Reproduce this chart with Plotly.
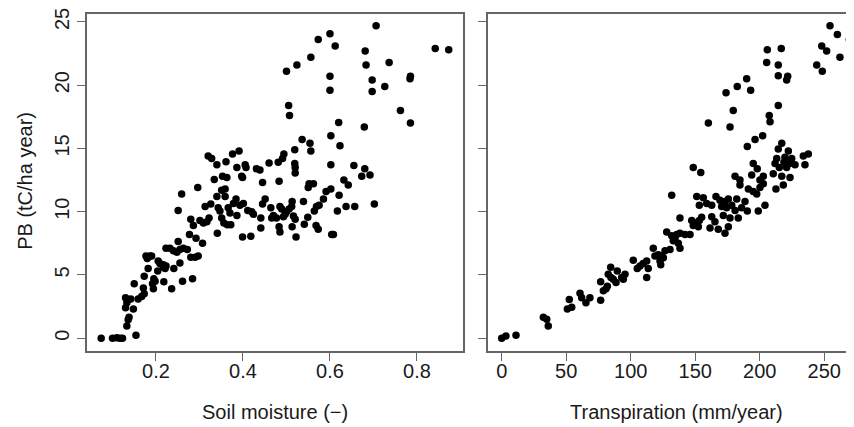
import plotly.graph_objects as go

soil_moisture = [0.706,0.600,0.573,0.612,0.556,0.524,0.500,0.681,0.683,0.736,0.842,0.873,0.600,0.600,0.697,0.697,0.726,0.785,0.784,0.505,0.507,0.762,0.785,0.620,0.679,0.602,0.623,0.536,0.554,0.556,0.519,0.494,0.491,0.481,0.460,0.519,0.520,0.602,0.655,0.680,0.439,
    0.320,0.328,0.340,0.361,0.376,0.391,0.386,0.405,0.407,0.431,
    0.074,0.100,0.110,0.117,0.123,0.154,0.133,0.136,0.138,0.130,0.148,0.130,0.142,0.133,0.159,0.150,0.167,0.173,0.171,0.182,0.177,0.180,0.186,0.190,0.173,0.192,0.195,0.198,0.194,0.205,0.209,0.217,0.204,0.217,0.223,0.221,0.218,0.236,0.223,0.232,0.240,0.251,0.248,0.255,0.241,0.255,0.261,0.263,0.272,0.277,0.280,0.290,0.297,0.284,0.292,0.307,0.251,0.259,0.280,0.286,0.296,0.301,0.309,0.317,0.322,0.313,0.326,0.334,0.341,0.340,0.343,0.347,0.351,0.356,0.364,0.372,0.351,0.359,0.353,0.363,0.359,0.366,0.370,0.378,0.384,0.386,0.397,0.399,0.393,0.401,0.399,0.418,0.411,0.420,0.424,
    0.520,0.445,0.483,0.552,0.562,0.550,0.632,0.642,0.673,0.692,0.591,0.602,0.621,0.585,0.575,0.569,0.564,0.539,0.513,0.451,0.445,0.464,0.485,0.489,0.506,0.500,0.512,0.470,0.477,0.466,0.493,0.497,0.516,0.520,0.441,0.441,0.483,0.485,0.513,0.522,0.541,0.549,0.568,0.573,0.604,0.608,0.617,0.637,0.657,0.702]
pb_soil = [24.7,24.06,23.6,23.1,22.2,21.6,21.1,22.7,21.6,21.8,22.9,22.8,20.7,19.6,20.4,19.5,19.9,20.7,20.5,18.4,17.6,18.0,17.0,17.05,16.7,16.0,15.2,15.7,15.4,14.8,14.9,14.55,14.2,13.9,13.85,13.8,13.5,13.7,13.65,13.4,13.3,
    14.4,14.2,13.7,13.95,14.55,14.8,13.5,13.7,13.5,13.4,
    0.0,0.0,0.03,0.0,0.0,0.23,0.96,1.46,1.66,2.4,2.3,3.2,3.1,2.8,3.1,4.3,3.3,3.5,3.96,5.5,6.5,6.3,6.5,6.5,4.9,4.3,4.7,4.5,3.9,6.1,5.9,5.8,5.3,5.6,5.7,5.5,4.45,3.9,7.1,7.1,6.9,7.65,6.8,7.0,5.5,5.95,4.5,7.1,7.0,8.2,6.4,6.4,6.5,4.7,7.9,7.5,10.1,11.4,9.4,8.9,11.9,9.3,9.1,9.2,9.5,10.4,10.6,12.55,8.3,11.2,10.3,10.05,9.5,9.1,8.96,8.96,11.7,11.8,12.8,12.7,11.2,10.3,9.9,10.65,11.0,9.7,12.8,12.7,10.5,10.65,8.0,8.05,10.1,10.0,9.8,
    13.05,12.3,12.4,12.2,12.2,11.9,12.5,12.1,12.8,12.9,11.6,11.8,11.3,11.0,10.5,10.4,10.05,10.8,10.8,11.0,10.6,10.3,10.4,10.2,10.2,10.0,10.4,9.7,9.5,9.5,9.6,9.8,9.65,9.4,9.5,8.7,8.8,8.4,8.8,8.0,9.0,9.55,8.9,8.6,8.2,8.2,10.05,10.4,10.4,10.6]

transpiration = [254.5,260.2,269.5,248.1,251.9,262.2,244.2,248.5,205.9,216.7,205.4,214.4,214.4,221.7,220.9,189.9,182.6,173.9,193.0,214.4,179.5,207.4,208.0,160.2,177.0,202.3,196.4,190.4,148.5,154.3,217.1,214.4,222.2,219.6,224.8,223.0,227.4,218.8,213.2,211.9,215.2,220.9,233.8,237.7,235.1,195.0,198.1,193.8,202.8,180.9,184.7,210.5,217.1,223.5,
    184.7,200.2,202.8,218.3,212.6,191.2,195.0,200.2,197.7,131.8,151.2,156.3,166.1,153.2,158.9,162.8,169.2,173.1,175.7,182.2,188.6,170.5,174.4,178.3,180.9,186.0,190.4,204.1,198.9,138.2,147.3,149.8,153.2,155.0,148.5,152.4,162.8,165.3,171.8,177.0,183.4,161.5,167.9,173.1,175.7,127.9,131.8,135.7,138.2,142.1,146.0,133.0,136.9,138.2,134.3,130.5,126.6,124.0,122.7,123.3,125.3,
    0.0,3.3,11.1,32.3,34.9,36.1,50.9,54.3,52.4,60.7,62.0,65.3,68.4,76.7,76.7,80.9,81.9,78.8,82.6,84.5,86.5,88.6,89.6,94.3,95.6,93.0,84.7,102.0,105.1,107.2,109.7,112.4,113.6,112.4,117.5,118.8,121.4]
pb_transp = [24.7,24.0,23.6,23.1,22.7,22.2,21.6,21.1,22.8,22.9,21.8,21.6,20.75,20.7,20.4,20.5,19.9,19.4,19.6,18.4,18.0,17.6,17.1,17.0,16.7,16.0,15.7,15.15,13.5,13.1,15.4,14.95,14.8,14.3,14.2,13.8,13.7,13.9,14.2,13.8,13.5,13.5,14.4,14.55,13.7,13.8,13.4,12.9,12.8,12.8,12.5,13.0,12.8,12.7,
    12.1,12.5,12.2,12.1,11.8,11.8,11.6,11.9,11.4,11.3,11.2,11.1,11.2,10.5,10.65,10.5,10.9,10.8,11.0,11.0,10.8,10.4,10.3,10.5,10.1,10.3,10.05,10.5,10.05,9.5,9.3,9.1,9.3,9.55,8.9,8.8,9.6,9.2,9.7,9.5,9.5,8.7,8.6,8.3,8.8,8.4,8.1,8.2,8.3,8.2,8.2,7.7,7.5,7.1,7.9,7.0,6.9,6.5,6.1,5.8,6.35,
    0.0,0.16,0.23,1.66,1.5,0.96,2.3,2.45,3.05,3.55,3.2,2.8,3.2,3.0,4.45,3.9,4.1,3.75,5.05,5.6,4.65,4.4,5.3,4.65,5.05,4.8,4.8,6.15,5.5,5.7,5.9,4.8,5.5,6.1,7.1,6.5,6.6]

x1_ticks = [0.2, 0.4, 0.6, 0.8]
x2_ticks = [0, 50, 100, 150, 200, 250]
y_ticks = [0, 5, 10, 15, 20, 25]

FONT = "Liberation Sans, Arial, sans-serif"
TXT = "#1a1a1a"
LINE = "#666666"

fig = go.Figure()
fig.add_trace(go.Scatter(x=soil_moisture, y=pb_soil, mode="markers",
                         marker=dict(color="black", size=7.5, line=dict(width=0)),
                         xaxis="x", yaxis="y", showlegend=False))
fig.add_trace(go.Scatter(x=transpiration, y=pb_transp, mode="markers",
                         marker=dict(color="black", size=7.5, line=dict(width=0)),
                         xaxis="x2", yaxis="y2", showlegend=False))

axcommon = dict(showgrid=False, zeroline=False, showline=True, linecolor=LINE, linewidth=1.5,
                ticks="outside", ticklen=8, tickwidth=1.3, tickcolor=LINE,
                tickfont=dict(family=FONT, size=20, color=TXT), ticklabeloverflow="allow")

fig.update_layout(
    width=846, height=419,
    margin=dict(l=79, r=0, t=2, b=76),
    paper_bgcolor="white", plot_bgcolor="white",
    font=dict(family=FONT, size=20, color=TXT),
    xaxis=dict(domain=[0, 0.4902], range=[0.0414, 0.9058], tickvals=x1_ticks,
               ticktext=[f"{v:.1f}" for v in x1_ticks], mirror=True, anchor="y",
               ticklabelstandoff=-7, **axcommon),
    yaxis=dict(domain=[0, 1], range=[-1.016, 25.625], tickvals=y_ticks, tickangle=-90,
               mirror=True, anchor="x", **axcommon),
    xaxis2=dict(domain=[0.5228, 1], range=[-10.62, 273.1], tickvals=x2_ticks,
                mirror=True, anchor="y2", ticklabelstandoff=-7, **axcommon),
    yaxis2=dict(domain=[0, 1], range=[-1.016, 25.625], tickvals=y_ticks, showticklabels=False,
                mirror=False, anchor="x2", **axcommon),
    annotations=[
        dict(text="PB (tC/ha year)", xref="paper", yref="paper", x=-0.0808, y=0.505,
             textangle=-90, showarrow=False, xanchor="center", yanchor="middle",
             font=dict(family=FONT, size=20, color=TXT)),
        dict(text="Soil moisture (−)", xref="paper", yref="paper", x=0.245, y=-0.182,
             showarrow=False, xanchor="center", yanchor="middle",
             font=dict(family=FONT, size=20, color=TXT)),
        dict(text="Transpiration (mm/year)", xref="paper", yref="paper", x=0.769, y=-0.182,
             showarrow=False, xanchor="center", yanchor="middle",
             font=dict(family=FONT, size=20, color=TXT)),
    ],
)

fig.write_html("out.html")
